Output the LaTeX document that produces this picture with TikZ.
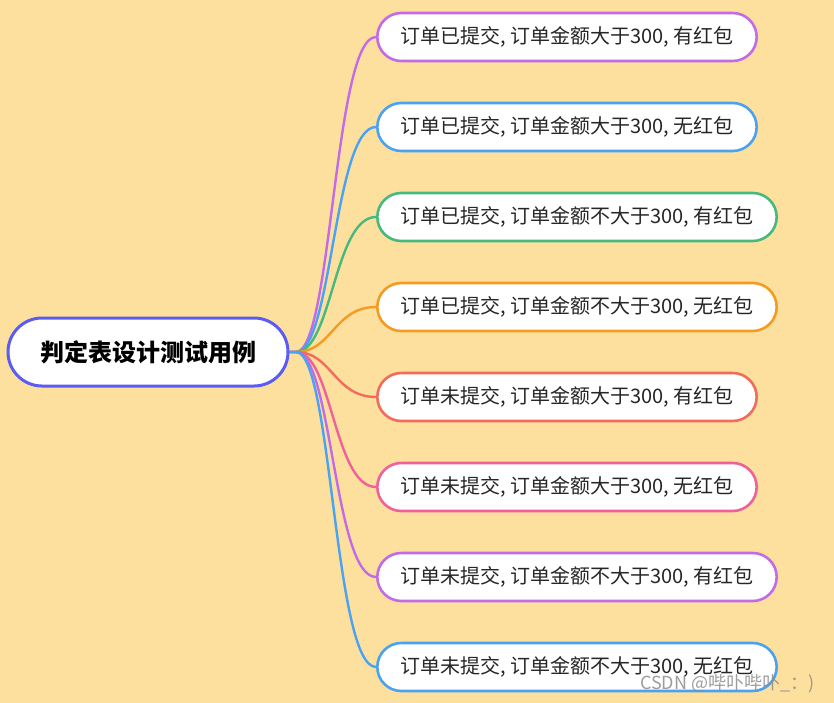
\documentclass[tikz,border=0pt]{standalone}
\usepackage{fontspec}
\setmainfont{Noto Sans CJK SC}
\usetikzlibrary{backgrounds}
\definecolor{bgc}{HTML}{FDE09E}
\definecolor{cpurple}{HTML}{C36BE6}
\definecolor{cblue}{HTML}{4AA2F2}
\definecolor{cgreen}{HTML}{47B97E}
\definecolor{corange}{HTML}{F59B22}
\definecolor{cred}{HTML}{F26B5B}
\definecolor{cpink}{HTML}{F0619A}
\definecolor{croot}{HTML}{5A5CF2}
\tikzset{
  x=1pt, y=-1pt,
  leaf/.style={draw=#1, line width=2.6pt, fill=white, rounded corners=24pt,
    minimum height=48pt, inner xsep=23pt, inner ysep=0pt, anchor=west,
    font=\fontsize{20}{24}\selectfont, text=black!85},
  rootbox/.style={draw=croot, line width=3pt, fill=white, rounded corners=34pt,
    minimum height=68pt, minimum width=280pt, inner ysep=0pt,
    font=\fontsize{24}{28}\selectfont\bfseries},
  link/.style={draw=#1, line width=2.4pt},
}
\begin{document}
\begin{tikzpicture}
\node[rootbox] (root) at (148,352) {判定表设计测试用例};
\coordinate (hub) at (296,352);
\node[leaf=cpurple] (n1) at (376,37) {订单已提交, 订单金额大于300, 有红包};
\node[leaf=cblue] (n2) at (376,127) {订单已提交, 订单金额大于300, 无红包};
\node[leaf=cgreen] (n3) at (376,217) {订单已提交, 订单金额不大于300, 有红包};
\node[leaf=corange] (n4) at (376,307) {订单已提交, 订单金额不大于300, 无红包};
\node[leaf=cred] (n5) at (376,397) {订单未提交, 订单金额大于300, 有红包};
\node[leaf=cpink] (n6) at (376,487) {订单未提交, 订单金额大于300, 无红包};
\node[leaf=cpurple] (n7) at (376,577) {订单未提交, 订单金额不大于300, 有红包};
\node[leaf=cblue] (n8) at (376,667) {订单未提交, 订单金额不大于300, 无红包};
\node[anchor=west, text=black!45, opacity=0.85, font=\fontsize{18}{20}\selectfont, inner sep=0pt] (wm) at (640,684) {CSDN @哔卟哔卟\_：)};
\begin{scope}[on background layer]
\fill[bgc] (0,0) rectangle (834,703);
\foreach \n/\c in {n1/cpurple,n2/cblue,n3/cgreen,n4/corange,n5/cred,n6/cpink,n7/cpurple,n8/cblue}{
  \draw[link=\c] (root.east) -- (hub) .. controls ([xshift=36pt]hub) and ([xshift=-42pt]\n.west) .. (\n.west);
}
\end{scope}
\useasboundingbox (0,0) rectangle (834,703);
\end{tikzpicture}
\end{document}
